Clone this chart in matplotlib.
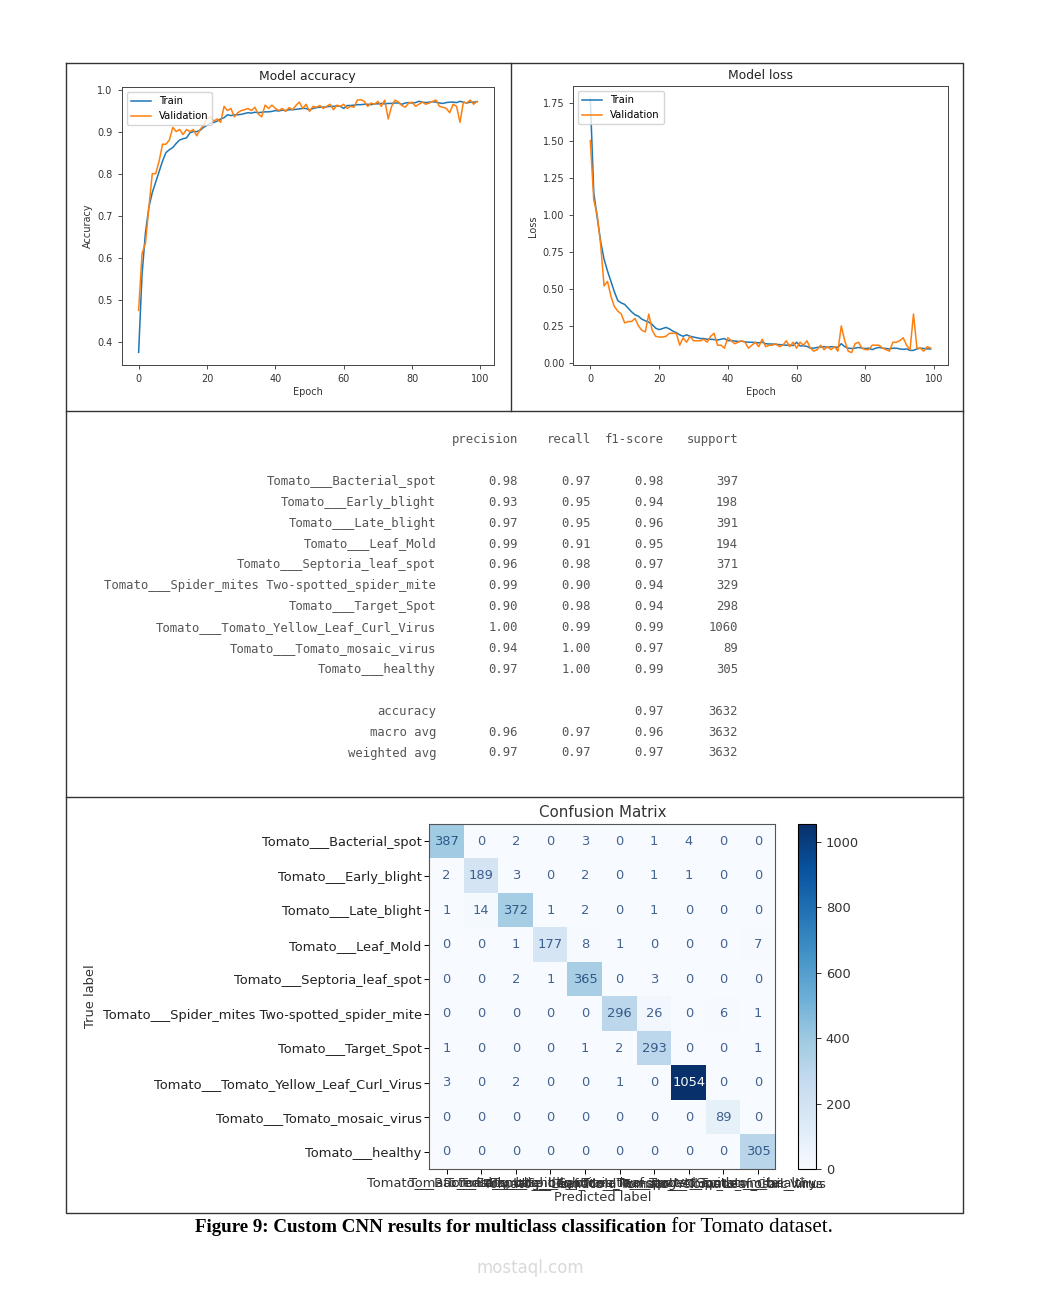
import numpy as np
import matplotlib
matplotlib.use('Agg')
import matplotlib.pyplot as plt

# ---------------- data ----------------
epochs = np.arange(100)

train_acc = [0.375, 0.56, 0.66, 0.72, 0.755, 0.78, 0.805, 0.83, 0.85, 0.857,
             0.862, 0.872, 0.88, 0.883, 0.885, 0.897, 0.90, 0.90, 0.903, 0.91,
             0.915, 0.92, 0.922, 0.925, 0.93, 0.933, 0.94, 0.938, 0.94, 0.94,
             0.941, 0.943, 0.945, 0.944, 0.946, 0.945, 0.946, 0.947, 0.947, 0.948,
             0.95, 0.949, 0.951, 0.95, 0.952, 0.952, 0.953, 0.954, 0.955, 0.955,
             0.951, 0.955, 0.957, 0.958, 0.958, 0.959, 0.96, 0.96, 0.961, 0.96,
             0.955, 0.962, 0.962, 0.963, 0.964, 0.964, 0.965, 0.965, 0.964, 0.966,
             0.966, 0.967, 0.966, 0.967, 0.967, 0.968, 0.968, 0.965, 0.968, 0.969,
             0.968, 0.969, 0.972, 0.97, 0.969, 0.97, 0.971, 0.97, 0.968, 0.967,
             0.969, 0.97, 0.97, 0.969, 0.972, 0.97, 0.968, 0.97, 0.97, 0.971]
val_acc = [0.475, 0.61, 0.635, 0.72, 0.80, 0.80, 0.83, 0.87, 0.87, 0.88,
           0.91, 0.90, 0.905, 0.893, 0.905, 0.90, 0.905, 0.89, 0.905, 0.915,
           0.93, 0.935, 0.925, 0.93, 0.922, 0.96, 0.95, 0.955, 0.935, 0.945,
           0.95, 0.952, 0.955, 0.95, 0.958, 0.942, 0.935, 0.963, 0.955, 0.963,
           0.955, 0.95, 0.955, 0.948, 0.957, 0.952, 0.962, 0.97, 0.955, 0.965,
           0.948, 0.96, 0.958, 0.962, 0.955, 0.96, 0.965, 0.952, 0.963, 0.96,
           0.965, 0.955, 0.96, 0.958, 0.975, 0.976, 0.972, 0.96, 0.968, 0.965,
           0.972, 0.96, 0.975, 0.93, 0.96, 0.975, 0.97, 0.962, 0.958, 0.968,
           0.97, 0.96, 0.965, 0.97, 0.965, 0.968, 0.972, 0.975, 0.96, 0.958,
           0.955, 0.945, 0.965, 0.96, 0.922, 0.97, 0.968, 0.975, 0.965, 0.972]

train_loss = [1.78, 1.15, 0.98, 0.82, 0.70, 0.62, 0.55, 0.48, 0.42, 0.405,
              0.395, 0.37, 0.345, 0.325, 0.315, 0.295, 0.285, 0.275, 0.26, 0.235,
              0.225, 0.232, 0.24, 0.23, 0.215, 0.205, 0.19, 0.18, 0.19, 0.18,
              0.175, 0.17, 0.165, 0.165, 0.16, 0.16, 0.158, 0.155, 0.16, 0.165,
              0.15, 0.152, 0.148, 0.145, 0.147, 0.143, 0.14, 0.14, 0.138, 0.136,
              0.14, 0.13, 0.128, 0.128, 0.125, 0.124, 0.122, 0.12, 0.12, 0.118,
              0.14, 0.115, 0.116, 0.112, 0.10, 0.10, 0.105, 0.108, 0.11, 0.105,
              0.11, 0.108, 0.105, 0.13, 0.11, 0.10, 0.098, 0.10, 0.105, 0.10,
              0.098, 0.10, 0.09, 0.10, 0.105, 0.10, 0.098, 0.095, 0.10, 0.10,
              0.095, 0.092, 0.095, 0.085, 0.085, 0.095, 0.10, 0.098, 0.095, 0.095]
val_loss = [1.50, 1.10, 1.00, 0.80, 0.52, 0.55, 0.45, 0.38, 0.35, 0.33,
            0.27, 0.28, 0.28, 0.30, 0.25, 0.22, 0.21, 0.33, 0.22, 0.18,
            0.175, 0.175, 0.18, 0.20, 0.20, 0.20, 0.12, 0.17, 0.14, 0.18,
            0.15, 0.15, 0.15, 0.16, 0.14, 0.18, 0.20, 0.12, 0.12, 0.10,
            0.17, 0.15, 0.13, 0.14, 0.15, 0.14, 0.10, 0.12, 0.14, 0.11,
            0.16, 0.11, 0.12, 0.12, 0.13, 0.11, 0.12, 0.15, 0.11, 0.14,
            0.10, 0.14, 0.12, 0.15, 0.10, 0.08, 0.09, 0.12, 0.09, 0.11,
            0.09, 0.11, 0.08, 0.25, 0.15, 0.08, 0.07, 0.13, 0.14, 0.10,
            0.09, 0.09, 0.12, 0.12, 0.12, 0.10, 0.09, 0.08, 0.14, 0.14,
            0.15, 0.17, 0.12, 0.09, 0.33, 0.10, 0.10, 0.08, 0.11, 0.10]

classes = ['Tomato___Bacterial_spot', 'Tomato___Early_blight', 'Tomato___Late_blight',
           'Tomato___Leaf_Mold', 'Tomato___Septoria_leaf_spot',
           'Tomato___Spider_mites Two-spotted_spider_mite', 'Tomato___Target_Spot',
           'Tomato___Tomato_Yellow_Leaf_Curl_Virus', 'Tomato___Tomato_mosaic_virus',
           'Tomato___healthy']
precision = [0.98, 0.93, 0.97, 0.99, 0.96, 0.99, 0.90, 1.00, 0.94, 0.97]
recall = [0.97, 0.95, 0.95, 0.91, 0.98, 0.90, 0.98, 0.99, 1.00, 1.00]
f1 = [0.98, 0.94, 0.96, 0.95, 0.97, 0.94, 0.94, 0.99, 0.97, 0.99]
support = [397, 198, 391, 194, 371, 329, 298, 1060, 89, 305]
headers = ['precision', 'recall', 'f1-score', 'support']
accuracy = 0.97
macro_avg = [0.96, 0.97, 0.96, 3632]
weighted_avg = [0.97, 0.97, 0.97, 3632]

cm = np.array([
    [387, 0, 2, 0, 3, 0, 1, 4, 0, 0],
    [2, 189, 3, 0, 2, 0, 1, 1, 0, 0],
    [1, 14, 372, 1, 2, 0, 1, 0, 0, 0],
    [0, 0, 1, 177, 8, 1, 0, 0, 0, 7],
    [0, 0, 2, 1, 365, 0, 3, 0, 0, 0],
    [0, 0, 0, 0, 0, 296, 26, 0, 6, 1],
    [1, 0, 0, 0, 1, 2, 293, 0, 0, 1],
    [3, 0, 2, 0, 0, 1, 0, 1054, 0, 0],
    [0, 0, 0, 0, 0, 0, 0, 0, 89, 0],
    [0, 0, 0, 0, 0, 0, 0, 0, 0, 305]])

W, H = 1062, 1305
fig = plt.figure(figsize=(W / 100, H / 100), dpi=100)


def box(x0, y_top, x1, y_bot):
    # pixel box -> figure fraction
    return [x0 / W, 1 - y_bot / H, (x1 - x0) / W, (y_bot - y_top) / H]


# overlay for frames and text, in pixel coordinates
ov = fig.add_axes([0, 0, 1, 1])
ov.set_xlim(0, W)
ov.set_ylim(H, 0)
ov.axis('off')

fc = '#333333'
ov.plot([66, 963, 963, 66, 66], [63, 63, 1213, 1213, 63], color=fc, lw=1)
ov.plot([66, 963], [411, 411], color=fc, lw=1)
ov.plot([66, 963], [797, 797], color=fc, lw=1)
ov.plot([511, 511], [63, 411], color=fc, lw=1)

# ---------------- training curves ----------------
small = 7


def style_small(ax):
    ax.tick_params(labelsize=small, colors='#333333', length=3, width=0.6)
    for s in ax.spines.values():
        s.set_linewidth(0.7)
        s.set_color('#444444')


ax1 = fig.add_axes(box(121.7, 87, 494, 365))
ax1.plot(epochs, train_acc, color='#1f77b4', lw=1.1, label='Train')
ax1.plot(epochs, val_acc, color='#ff7f0e', lw=1.1, label='Validation')
ax1.set_title('Model accuracy', fontsize=8.9, color='#222222', pad=5)
ax1.set_xlabel('Epoch', fontsize=small, color='#333333', labelpad=2)
ax1.set_ylabel('Accuracy', fontsize=small, color='#333333', labelpad=3)
ax1.legend(loc='upper left', fontsize=7.2)
style_small(ax1)

ax2 = fig.add_axes(box(573.3, 86.3, 947.7, 365.3))
ax2.plot(epochs, train_loss, color='#1f77b4', lw=1.1, label='Train')
ax2.plot(epochs, val_loss, color='#ff7f0e', lw=1.1, label='Validation')
ax2.set_title('Model loss', fontsize=8.9, color='#222222', pad=5)
ax2.set_xlabel('Epoch', fontsize=small, color='#333333', labelpad=2)
ax2.set_ylabel('Loss', fontsize=small, color='#333333', labelpad=3)
ax2.set_yticks([0, 0.25, 0.5, 0.75, 1.0, 1.25, 1.5, 1.75])
ax2.legend(loc='upper left', fontsize=7.2)
style_small(ax2)

# ---------------- classification report ----------------
# each column right-aligned at its own x position, rows on a common baseline
col_x = [436, 518, 591, 664, 738]
rows = [[''] + headers, None]
for name, p, r, f, s in zip(classes, precision, recall, f1, support):
    rows.append([name, f'{p:.2f}', f'{r:.2f}', f'{f:.2f}', str(s)])
rows.append(None)
rows.append(['accuracy', '', '', f'{accuracy:.2f}', str(macro_avg[3])])
rows.append(['macro avg'] + [f'{v:.2f}' for v in macro_avg[:3]] + [str(macro_avg[3])])
rows.append(['weighted avg'] + [f'{v:.2f}' for v in weighted_avg[:3]] + [str(weighted_avg[3])])

rep_font = dict(fontsize=8.8, family='DejaVu Sans Mono', color='#555555', ha='right', va='baseline')
for i, row in enumerate(rows):
    if row is None:
        continue
    for x, cell in zip(col_x, row):
        if cell:
            ov.text(x, 443 + i * 20.9, cell, **rep_font)

# ---------------- confusion matrix ----------------
fs = 9.4
ax3 = fig.add_axes(box(429.3, 824, 775.3, 1169))
im = ax3.imshow(cm, cmap='Blues', aspect='auto', vmin=0, vmax=cm.max())
cmap = plt.get_cmap('Blues')
thresh = cm.max() / 2.0
for i in range(cm.shape[0]):
    for j in range(cm.shape[1]):
        col = cmap(0.0) if cm[i, j] > thresh else cmap(1.0)
        ax3.text(j, i, str(cm[i, j]), ha='center', va='center', fontsize=fs,
                 color=col, alpha=0.75 if cm[i, j] <= thresh else 1)
ax3.set_xticks(range(len(classes)))
ax3.set_xticklabels(classes, fontsize=fs, color='#333333')
ax3.set_yticks(range(len(classes)))
ax3.set_yticklabels(classes, fontsize=fs, color='#222222')
ax3.set_xlabel('Predicted label', fontsize=fs, color='#333333', labelpad=1)
ax3.set_ylabel('True label', fontsize=fs, color='#333333')
ax3.set_title('Confusion Matrix', fontsize=10.8, color='#333333', pad=5)
ax3.tick_params(length=3.5, width=0.7, pad=2)
for s in ax3.spines.values():
    s.set_linewidth(0.8)
    s.set_color('#555555')

cax = fig.add_axes(box(797.7, 824, 816, 1169))
cb = fig.colorbar(im, cax=cax)
cb.set_ticks([0, 200, 400, 600, 800, 1000])
cb.ax.tick_params(labelsize=fs, length=3.5, width=0.7, colors='#333333')
cb.outline.set_linewidth(0.8)

# ---------------- caption ----------------
fig.canvas.draw()
t1 = ov.text(195, 1227, 'Figure 9: Custom CNN results for multiclass classification',
             fontsize=13.7, family='Liberation Serif', weight='bold', ha='left', va='center')
fig.canvas.draw()
bb = t1.get_window_extent()
x_end = ov.transData.inverted().transform((bb.x1, bb.y0))[0]
ov.text(x_end, 1227, ' for Tomato dataset.', fontsize=15, family='Liberation Serif',
        ha='left', va='center')
ov.text(530, 1268, 'mostaql.com', fontsize=12, color='#d9d9d9', ha='center', va='center')

fig.savefig('out.png', dpi=100)
